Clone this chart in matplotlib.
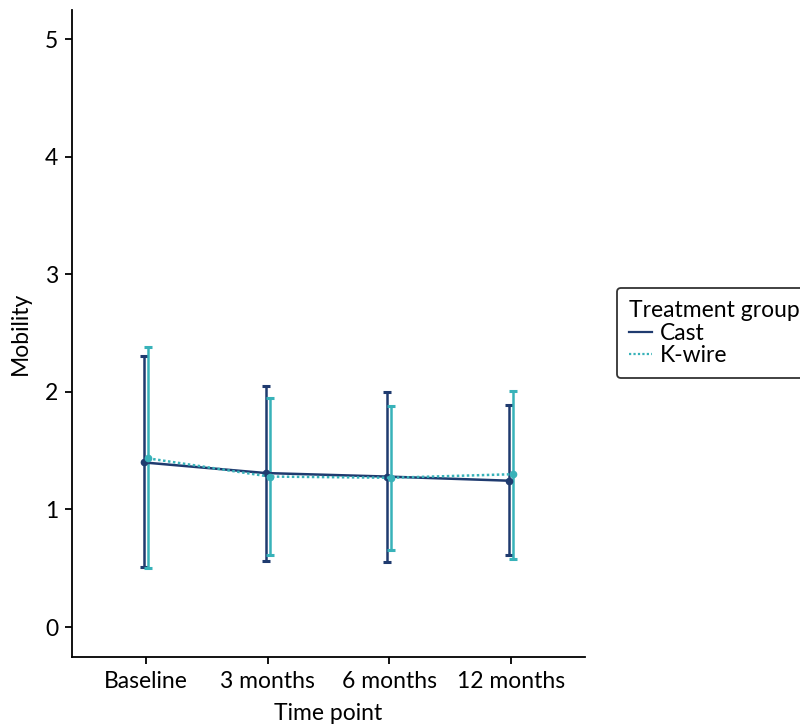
import numpy as np
import matplotlib
matplotlib.use('Agg')
import matplotlib.pyplot as plt

plt.rcParams['font.family'] = ['Lato', 'DejaVu Sans']

timepoints = ['Baseline', '3 months', '6 months', '12 months']
groups = ['Cast', 'K-wire']

cast_mean = [1.40, 1.31, 1.28, 1.245]
cast_lower = [0.51, 0.56, 0.55, 0.61]
cast_upper = [2.31, 2.05, 2.00, 1.89]

kwire_mean = [1.435, 1.28, 1.27, 1.30]
kwire_lower = [0.50, 0.61, 0.655, 0.58]
kwire_upper = [2.38, 1.95, 1.88, 2.01]

colors = {'Cast': '#1f3b6f', 'K-wire': '#38b2b9'}
styles = {'Cast': '-', 'K-wire': (0, (1, 1))}
dodge = {'Cast': -0.017, 'K-wire': 0.017}

fig = plt.figure(figsize=(8.0, 7.27), dpi=100)
ax = fig.add_axes([0.09, 0.0963, 0.641, 0.89])

x = np.arange(len(timepoints))
series = {'Cast': (cast_mean, cast_lower, cast_upper),
          'K-wire': (kwire_mean, kwire_lower, kwire_upper)}

handles = []
for g in groups:
    mean, lo, hi = [np.array(v) for v in series[g]]
    xs = x + dodge[g]
    ax.errorbar(xs, mean, yerr=[mean - lo, hi - mean], fmt='none',
                ecolor=colors[g], elinewidth=1.8, capsize=2.8, capthick=2.2,
                zorder=2)
    ax.plot(xs, mean, color=colors[g], linestyle=styles[g], lw=1.8,
            marker='o', markersize=4.5, zorder=3)
    handles.append(plt.Line2D([], [], color=colors[g], linestyle=styles[g], lw=1.6))

ax.set_xlim(-0.61, 3.61)
ax.set_ylim(-0.255, 5.25)
ax.set_xticks(x)
ax.set_xticklabels(timepoints)
ax.set_yticks([0, 1, 2, 3, 4, 5])
ax.set_xlabel('Time point', fontsize=16.5, labelpad=8)
ax.set_ylabel('Mobility', fontsize=16.5, labelpad=10)
ax.tick_params(labelsize=16.5, length=5, width=1.3, colors='black', pad=5)
for s in ['top', 'right']:
    ax.spines[s].set_visible(False)
for s in ['left', 'bottom']:
    ax.spines[s].set_linewidth(1.3)

leg = fig.legend(handles, groups, title='Treatment group', loc='upper left',
                 bbox_to_anchor=(0.771, 0.604), fontsize=16.5, title_fontsize=16.5,
                 frameon=True, fancybox=True, edgecolor='black',
                 handlelength=1.0, handletextpad=0.35, labelspacing=0.05,
                 borderpad=0.55, borderaxespad=0, alignment='left')
leg.get_frame().set_linewidth(1.3)

fig.savefig('out.png', dpi=100)
